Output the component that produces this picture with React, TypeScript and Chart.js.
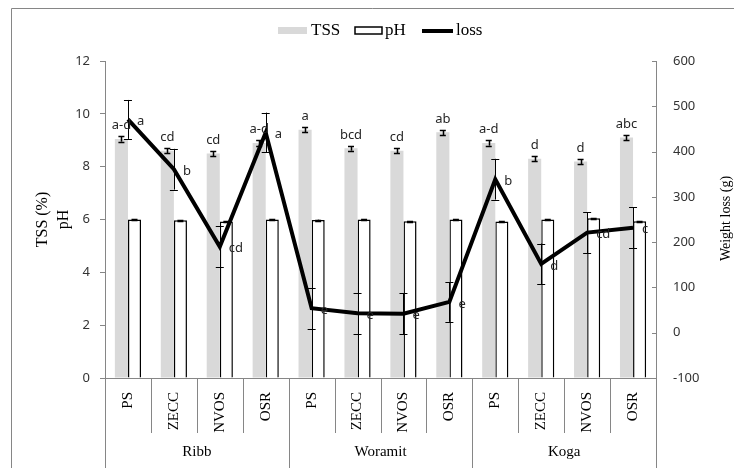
import React, { useEffect, useRef } from 'react';
import { Chart, registerables } from 'chart.js';

Chart.register(...registerables);

// ---- data ----
const categories = ['PS', 'ZECC', 'NVOS', 'OSR', 'PS', 'ZECC', 'NVOS', 'OSR', 'PS', 'ZECC', 'NVOS', 'OSR'];
const groups = ['Ribb', 'Woramit', 'Koga'];
const groupSize = 4;

const tss = [9.05, 8.6, 8.5, 8.9, 9.4, 8.7, 8.6, 9.3, 8.9, 8.3, 8.2, 9.1];
const tssErr = [0.1, 0.1, 0.09, 0.1, 0.1, 0.09, 0.09, 0.1, 0.1, 0.09, 0.09, 0.1];
const tssLetters = ['a-d', 'cd', 'cd', 'a-d', 'a', 'bcd', 'cd', 'ab', 'a-d', 'd', 'd', 'abc'];

const ph = [6.0, 5.97, 5.92, 6.0, 5.98, 6.0, 5.93, 6.0, 5.92, 6.0, 6.05, 5.93];
const phErr = [0.02, 0.02, 0.02, 0.02, 0.02, 0.02, 0.02, 0.02, 0.02, 0.02, 0.02, 0.02];

const loss = [471, 361, 190, 442, 54, 43, 42, 68, 339, 152, 221, 232];
const lossErr = [43, 45, 45, 44, 45, 45, 45, 44, 45, 45, 45, 45];
const lossLetters = ['a', 'b', 'cd', 'a', 'e', 'e', 'e', 'e', 'b', 'd', 'cd', 'c'];

const leftTicks = { min: 0, max: 12, step: 2 };
const rightTicks = { min: -100, max: 600, step: 100 };

const SERIF = '"Liberation Serif", "Times New Roman", serif';
const SANS = '"Noto Sans", "Open Sans", sans-serif';
const AXIS = '#868686';

const extras = {
  id: 'extras',
  afterDatasetsDraw(chart: any) {
    const ctx: CanvasRenderingContext2D = chart.ctx;
    const yL = chart.scales.y;
    const yR = chart.scales.y1;
    const m0 = chart.getDatasetMeta(0);
    const m1 = chart.getDatasetMeta(1);
    const m2 = chart.getDatasetMeta(2);
    ctx.save();
    ctx.strokeStyle = '#000';
    ctx.lineWidth = 1;
    const errBar = (x: number, y1: number, y2: number, cap: number) => {
      ctx.beginPath();
      ctx.moveTo(Math.round(x) + 0.5, y1);
      ctx.lineTo(Math.round(x) + 0.5, y2);
      ctx.moveTo(x - cap / 2, Math.round(y1) + 0.5);
      ctx.lineTo(x + cap / 2, Math.round(y1) + 0.5);
      ctx.moveTo(x - cap / 2, Math.round(y2) + 0.5);
      ctx.lineTo(x + cap / 2, Math.round(y2) + 0.5);
      ctx.stroke();
    };
    ctx.lineWidth = 1.5;
    tss.forEach((v, i) => {
      const x = m0.data[i].x;
      errBar(x, yL.getPixelForValue(v + tssErr[i]), yL.getPixelForValue(v - tssErr[i]), 6);
    });
    ph.forEach((v, i) => {
      const x = m1.data[i].x;
      errBar(x, yL.getPixelForValue(v + phErr[i]), yL.getPixelForValue(v - phErr[i]), 6);
    });
    ctx.lineWidth = 1;
    loss.forEach((v, i) => {
      const x = m2.data[i].x;
      errBar(x, yR.getPixelForValue(v + lossErr[i]), yR.getPixelForValue(v - lossErr[i]), 8);
    });
    // letters
    ctx.fillStyle = '#262626';
    ctx.font = `13px ${SANS}`;
    ctx.textAlign = 'center';
    ctx.textBaseline = 'alphabetic';
    tssLetters.forEach((t, i) => {
      const x = m0.data[i].x;
      ctx.fillText(t, x, yL.getPixelForValue(tss[i] + tssErr[i]) - 7);
    });
    ctx.textAlign = 'left';
    ctx.textBaseline = 'middle';
    lossLetters.forEach((t, i) => {
      const p = m2.data[i];
      ctx.fillText(t, p.x + 9, p.y + 2);
    });
    ctx.restore();
  },
  afterDraw(chart: any) {
    const ctx: CanvasRenderingContext2D = chart.ctx;
    const { left, right, top, bottom } = chart.chartArea;
    const xs = chart.scales.x;
    const yR = chart.scales.y1;
    ctx.save();
    // outer frame
    ctx.strokeStyle = AXIS;
    ctx.lineWidth = 1;
    ctx.beginPath();
    ctx.moveTo(11.5, chart.height);
    ctx.lineTo(11.5, 8.5);
    ctx.lineTo(chart.width, 8.5);
    ctx.stroke();
    // right axis inward ticks
    ctx.beginPath();
    for (let v = rightTicks.min; v <= rightTicks.max; v += rightTicks.step) {
      const y = Math.round(yR.getPixelForValue(v)) + 0.5;
      ctx.moveTo(right - 4, y);
      ctx.lineTo(right, y);
    }
    ctx.stroke();
    // category separators
    const n = categories.length;
    const bounds: number[] = [];
    for (let i = 0; i <= n; i++) {
      if (i === 0) bounds.push(left);
      else if (i === n) bounds.push(right);
      else bounds.push((xs.getPixelForValue(i - 1) + xs.getPixelForValue(i)) / 2);
    }
    ctx.beginPath();
    bounds.forEach((b, i) => {
      const bx = Math.round(b) + 0.5;
      ctx.moveTo(bx, bottom);
      ctx.lineTo(bx, i % groupSize === 0 ? chart.height : bottom + 55);
    });
    ctx.stroke();
    // category labels (rotated)
    ctx.fillStyle = '#000';
    ctx.font = `15px ${SERIF}`;
    ctx.textAlign = 'right';
    ctx.textBaseline = 'middle';
    categories.forEach((c, i) => {
      const cx = xs.getPixelForValue(i);
      ctx.save();
      ctx.translate(cx, bottom + 14);
      ctx.rotate(-Math.PI / 2);
      ctx.fillText(c, 0, 0);
      ctx.restore();
    });
    // group labels
    ctx.textAlign = 'center';
    groups.forEach((g, gi) => {
      const gx = (bounds[gi * groupSize] + bounds[(gi + 1) * groupSize]) / 2;
      ctx.fillText(g, gx, 452);
    });
    // axis titles
    const midY = (top + bottom) / 2;
    ctx.font = `16px ${SERIF}`;
    ctx.save();
    ctx.translate(42.5, midY);
    ctx.rotate(-Math.PI / 2);
    ctx.fillText('TSS (%)', 0, 0);
    ctx.restore();
    ctx.save();
    ctx.translate(63.5, midY);
    ctx.rotate(-Math.PI / 2);
    ctx.fillText('pH', 0, 0);
    ctx.restore();
    ctx.font = `14px ${SERIF}`;
    ctx.save();
    ctx.translate(726, midY - 1);
    ctx.rotate(-Math.PI / 2);
    ctx.fillText('Weight loss (g)', 0, 0);
    ctx.restore();
    // legend
    const ly = 31;
    ctx.font = `17px ${SERIF}`;
    ctx.textAlign = 'left';
    ctx.fillStyle = '#d9d9d9';
    ctx.fillRect(278, 27, 29, 7);
    ctx.fillStyle = '#000';
    ctx.fillText('TSS', 311, ly);
    ctx.fillStyle = '#fff';
    ctx.fillRect(355, 27, 27, 7);
    ctx.strokeStyle = '#000';
    ctx.lineWidth = 1.5;
    ctx.strokeRect(355, 27, 27, 7);
    ctx.fillStyle = '#000';
    ctx.fillText('pH', 385, ly);
    ctx.lineWidth = 4;
    ctx.beginPath();
    ctx.moveTo(422, ly);
    ctx.lineTo(453, ly);
    ctx.stroke();
    ctx.fillText('loss', 456, ly);
    ctx.restore();
  },
};

export default function App() {
  const ref = useRef<HTMLCanvasElement>(null);
  useEffect(() => {
    const chart = new Chart(ref.current as HTMLCanvasElement, {
      type: 'bar',
      data: {
        labels: categories,
        datasets: [
          {
            label: 'TSS',
            data: tss,
            backgroundColor: '#d9d9d9',
            borderWidth: 0,
            yAxisID: 'y',
            categoryPercentage: 0.57,
            barPercentage: 1.0,
            order: 1,
          } as any,
          {
            label: 'pH',
            data: ph,
            backgroundColor: '#ffffff',
            borderColor: '#000000',
            borderWidth: 1.5,
            yAxisID: 'y',
            categoryPercentage: 0.57,
            barPercentage: 1.0,
            order: 1,
          } as any,
          {
            type: 'line',
            label: 'loss',
            data: loss,
            borderColor: '#000000',
            backgroundColor: '#000000',
            borderWidth: 4,
            pointRadius: 0,
            tension: 0,
            borderJoinStyle: 'miter',
            fill: false,
            yAxisID: 'y1',
            order: 0,
          } as any,
        ],
      },
      options: {
        animation: false,
        responsive: false,
        maintainAspectRatio: false,
        layout: { padding: { top: 61, left: 0, right: 0, bottom: 0 } },
        plugins: {
          legend: { display: false },
          tooltip: { enabled: false },
          title: { display: false },
        },
        scales: {
          x: {
            type: 'category',
            position: 'bottom',
            grid: { display: false },
            ticks: { display: false },
            border: { display: true, color: AXIS, width: 1 },
            afterFit: (s: any) => { s.height = 90; },
          },
          y: {
            position: 'left',
            min: leftTicks.min,
            max: leftTicks.max,
            ticks: { stepSize: leftTicks.step, color: '#333', font: { family: SANS, size: 13 }, padding: 10 },
            grid: { drawOnChartArea: false, drawTicks: true, tickLength: 5, color: AXIS },
            border: { display: true, color: AXIS, width: 1 },
            afterFit: (s: any) => { s.width = 105; },
          },
          y1: {
            position: 'right',
            min: rightTicks.min,
            max: rightTicks.max,
            ticks: { stepSize: rightTicks.step, color: '#333', font: { family: SANS, size: 13 }, padding: 17 },
            grid: { drawOnChartArea: false, drawTicks: false, color: AXIS },
            border: { display: true, color: AXIS, width: 1 },
            afterFit: (s: any) => { s.width = 78; },
          },
        },
      } as any,
      plugins: [extras],
    });
    return () => chart.destroy();
  }, []);
  return (
    <div style={{ position: 'absolute', left: 0, top: 0, width: 734, height: 468, background: '#fff' }}>
      <canvas ref={ref} width={734} height={468} style={{ display: 'block', width: 734, height: 468 }} />
    </div>
  );
}
